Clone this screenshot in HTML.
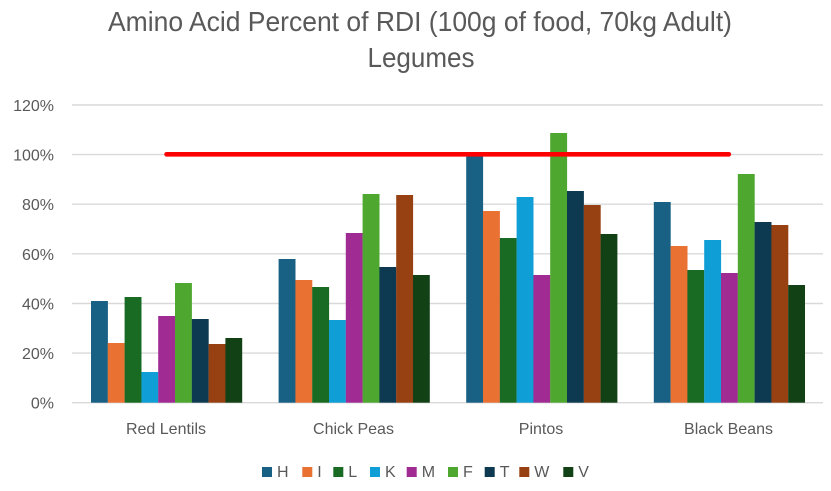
<!DOCTYPE html>
<html><head><meta charset="utf-8"><style>
html,body{margin:0;padding:0;background:#fff;}
svg{display:block;}
text{font-family:"Liberation Sans",sans-serif;fill:#595959;}
</style></head><body>
<svg width="831" height="491" viewBox="0 0 831 491" xmlns="http://www.w3.org/2000/svg">
<rect width="831" height="491" fill="#fff"/>
<text x="420" y="31" font-size="28" text-anchor="middle" textLength="624" lengthAdjust="spacingAndGlyphs">Amino Acid Percent of RDI (100g of food, 70kg Adult)</text>
<text x="421" y="67" font-size="28" text-anchor="middle" textLength="107" lengthAdjust="spacingAndGlyphs">Legumes</text>
<g stroke="#D9D9D9" stroke-width="1.4">
<line x1="72" y1="105" x2="823" y2="105"/>
<line x1="72" y1="154.6" x2="823" y2="154.6"/>
<line x1="72" y1="204.2" x2="823" y2="204.2"/>
<line x1="72" y1="253.8" x2="823" y2="253.8"/>
<line x1="72" y1="303.5" x2="823" y2="303.5"/>
<line x1="72" y1="353.1" x2="823" y2="353.1"/>
<line x1="72" y1="402.7" x2="823" y2="402.7"/>
</g>
<g font-size="16" text-anchor="end">
<text x="54" y="111">120%</text>
<text x="54" y="160.6">100%</text>
<text x="54" y="210.2">80%</text>
<text x="54" y="259.8">60%</text>
<text x="54" y="309.5">40%</text>
<text x="54" y="359.1">20%</text>
<text x="54" y="408.7">0%</text>
</g>
<g>
<!-- Red Lentils -->
<rect x="91" y="301" width="16.9" height="101.7" fill="#186184"/>
<rect x="107.8" y="343" width="16.9" height="59.7" fill="#E97132"/>
<rect x="124.6" y="297" width="16.9" height="105.7" fill="#196B24"/>
<rect x="141.4" y="372" width="16.9" height="30.7" fill="#0F9ED5"/>
<rect x="158.2" y="316" width="16.9" height="86.7" fill="#A02B93"/>
<rect x="175" y="283" width="16.9" height="119.7" fill="#4EA72E"/>
<rect x="191.8" y="319" width="16.9" height="83.7" fill="#0E3A51"/>
<rect x="208.6" y="344" width="16.9" height="58.7" fill="#974012"/>
<rect x="225.4" y="338" width="16.8" height="64.7" fill="#124116"/>
<!-- Chick Peas -->
<rect x="278.6" y="259" width="16.9" height="143.7" fill="#186184"/>
<rect x="295.4" y="280" width="16.9" height="122.7" fill="#E97132"/>
<rect x="312.2" y="287" width="16.9" height="115.7" fill="#196B24"/>
<rect x="329" y="320" width="16.9" height="82.7" fill="#0F9ED5"/>
<rect x="345.8" y="233" width="16.9" height="169.7" fill="#A02B93"/>
<rect x="362.6" y="194" width="16.9" height="208.7" fill="#4EA72E"/>
<rect x="379.4" y="267" width="16.9" height="135.7" fill="#0E3A51"/>
<rect x="396.2" y="195" width="16.9" height="207.7" fill="#974012"/>
<rect x="413" y="275" width="16.8" height="127.7" fill="#124116"/>
<!-- Pintos -->
<rect x="466.2" y="156" width="16.9" height="246.7" fill="#186184"/>
<rect x="483" y="211" width="16.9" height="191.7" fill="#E97132"/>
<rect x="499.8" y="238" width="16.9" height="164.7" fill="#196B24"/>
<rect x="516.6" y="197" width="16.9" height="205.7" fill="#0F9ED5"/>
<rect x="533.4" y="275" width="16.9" height="127.7" fill="#A02B93"/>
<rect x="550.2" y="133" width="16.9" height="269.7" fill="#4EA72E"/>
<rect x="567" y="191" width="16.9" height="211.7" fill="#0E3A51"/>
<rect x="583.8" y="205" width="16.9" height="197.7" fill="#974012"/>
<rect x="600.6" y="234" width="16.8" height="168.7" fill="#124116"/>
<!-- Black Beans -->
<rect x="653.8" y="202" width="16.9" height="200.7" fill="#186184"/>
<rect x="670.6" y="246" width="16.9" height="156.7" fill="#E97132"/>
<rect x="687.4" y="270" width="16.9" height="132.7" fill="#196B24"/>
<rect x="704.2" y="240" width="16.9" height="162.7" fill="#0F9ED5"/>
<rect x="721" y="273" width="16.9" height="129.7" fill="#A02B93"/>
<rect x="737.8" y="174" width="16.9" height="228.7" fill="#4EA72E"/>
<rect x="754.6" y="222" width="16.9" height="180.7" fill="#0E3A51"/>
<rect x="771.4" y="225" width="16.9" height="177.7" fill="#974012"/>
<rect x="788.2" y="285" width="16.8" height="117.7" fill="#124116"/>
</g>
<line x1="166.6" y1="154.3" x2="728.8" y2="154.3" stroke="#FF0000" stroke-width="4.7" stroke-linecap="round"/>
<g font-size="16" text-anchor="middle">
<text x="166" y="434">Red Lentils</text>
<text x="353.5" y="434">Chick Peas</text>
<text x="541" y="434">Pintos</text>
<text x="728.5" y="434">Black Beans</text>
</g>
<g font-size="16">
<rect x="262" y="467" width="10" height="10" fill="#186184"/><text x="277" y="477">H</text>
<rect x="302.3" y="467" width="10" height="10" fill="#E97132"/><text x="317.3" y="477">I</text>
<rect x="333.3" y="467" width="10" height="10" fill="#196B24"/><text x="348.3" y="477">L</text>
<rect x="370" y="467" width="10" height="10" fill="#0F9ED5"/><text x="385" y="477">K</text>
<rect x="406.7" y="467" width="10" height="10" fill="#A02B93"/><text x="421.7" y="477">M</text>
<rect x="448" y="467" width="10" height="10" fill="#4EA72E"/><text x="463" y="477">F</text>
<rect x="484.7" y="467" width="10" height="10" fill="#0E3A51"/><text x="499.7" y="477">T</text>
<rect x="519.3" y="467" width="10" height="10" fill="#974012"/><text x="534.3" y="477">W</text>
<rect x="563.3" y="467" width="10" height="10" fill="#124116"/><text x="578.3" y="477">V</text>
</g>
</svg>
</body></html>
